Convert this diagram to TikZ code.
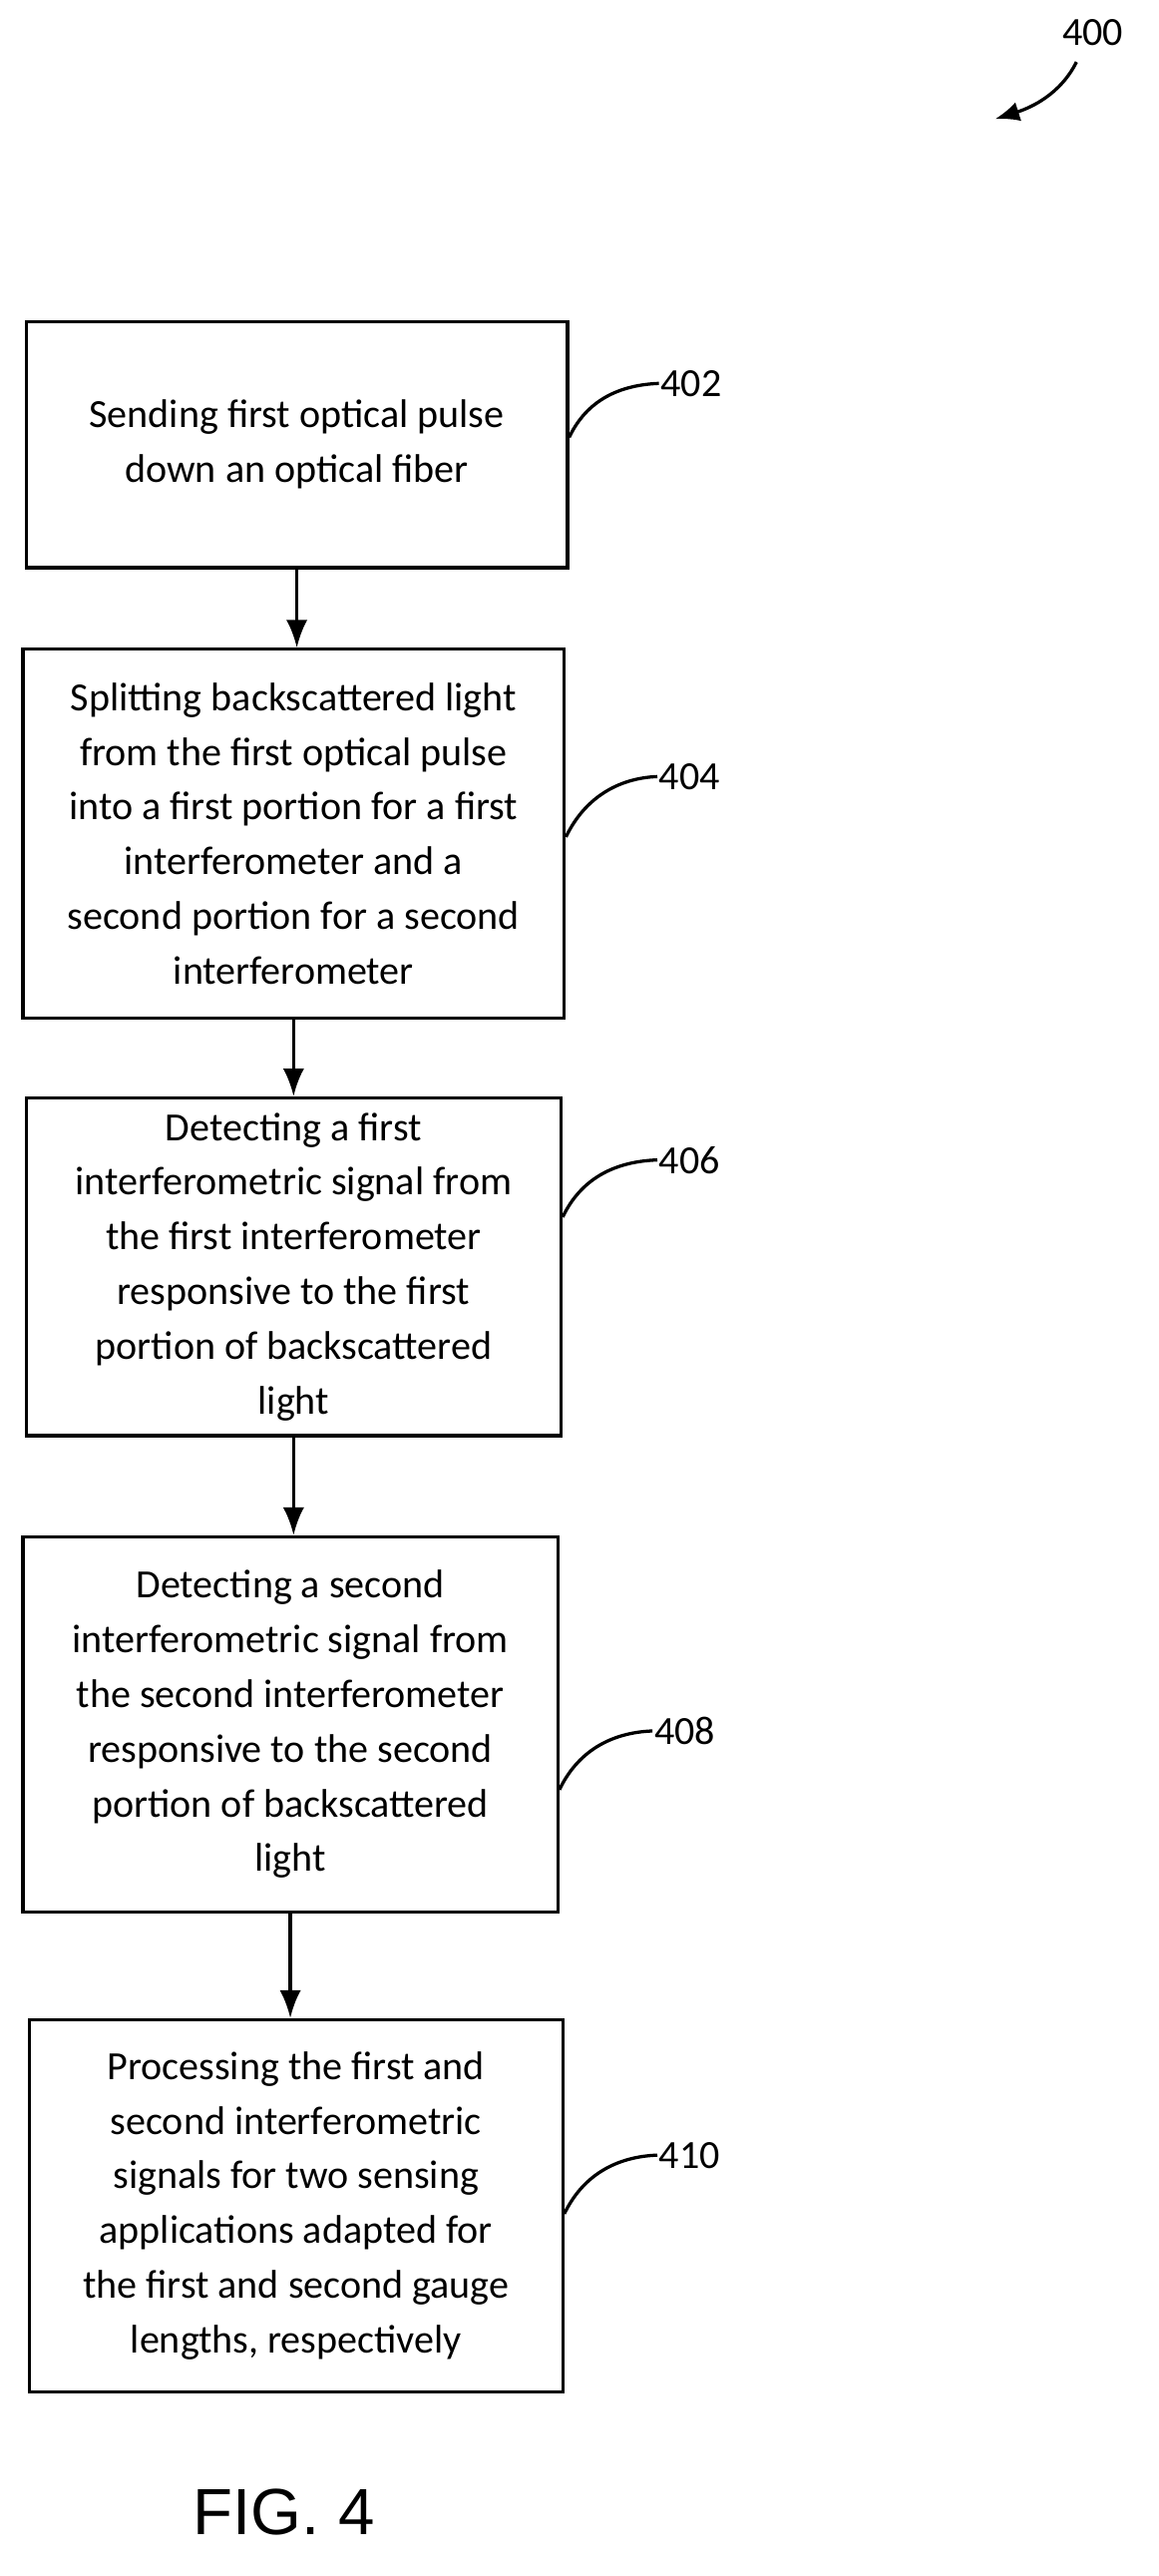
\documentclass[tikz,border=0pt]{standalone}
\usepackage{fontspec}
\usetikzlibrary{arrows.meta}
\setmainfont{Carlito}
\newfontfamily\arialf{Liberation Sans}
\begin{document}
\begin{tikzpicture}[x=1pt,y=-1pt,
 box/.style={draw,line width=2pt,align=center,font=\fontsize{24.5}{33.5}\selectfont,inner sep=0pt},
 lab/.style={font=\fontsize{24.5}{28}\selectfont,anchor=west,inner sep=1pt},
 arr/.style={line width=2pt,-{Latex[length=17pt,width=13pt]}},
 lead/.style={line width=2pt}]
\useasboundingbox (0,0) rectangle (710,1579);
\node[box,minimum width=332,minimum height=151] (b402) at (182,272.5) {Sending first optical pulse\\down an optical fiber};
\node[box,minimum width=332,minimum height=226] (b404) at (180,511) {Splitting backscattered light\\from the first optical pulse\\into a first portion for a first\\interferometer and a\\second portion for a second\\interferometer};
\node[box,minimum width=328,minimum height=207] (b406) at (180,776.5) {Detecting a first\\interferometric signal from\\the first interferometer\\responsive to the first\\portion of backscattered\\light};
\node[box,minimum width=328,minimum height=230] (b408) at (178,1057) {Detecting a second\\interferometric signal from\\the second interferometer\\responsive to the second\\portion of backscattered\\light};
\node[box,minimum width=327,minimum height=228] (b410) at (181.5,1352) {Processing the first and\\second interferometric\\signals for two sensing\\applications adapted for\\the first and second gauge\\lengths, respectively};
\draw[arr] (b402.south) -- (b404.north-|b402.south);
\draw[arr] (b404.south) -- (b406.north-|b404.south);
\draw[arr] (b406.south) -- (b408.north-|b406.south);
\draw[arr] (b408.south) -- (b410.north-|b408.south);
\node[lab] (l402) at (404,235) {402};
\node[lab] (l404) at (403,476) {404};
\node[lab] (l406) at (403,711) {406};
\node[lab] (l408) at (400,1061) {408};
\node[lab] (l410) at (403,1321) {410};
\draw[lead] (b402.east|-0,268) .. controls (360,245) and (380,236) .. (l402.west);
\draw[lead] (b404.east|-0,513) .. controls (358,490) and (378,477) .. (l404.west);
\draw[lead] (b406.east|-0,746) .. controls (356,723) and (376,712) .. (l406.west);
\draw[lead] (b408.east|-0,1097) .. controls (354,1074) and (374,1062) .. (l408.west);
\draw[lead] (b410.east|-0,1357) .. controls (357,1334) and (377,1322) .. (l410.west);
\node[lab,anchor=center] (l400) at (670,20) {400};
\coordinate (a400) at (610,73);
\draw[line width=2pt,-{Latex[length=15pt,width=12pt]}] (660,38) .. controls (650,58) and (632,66) .. (a400);
\node[font=\arialf\fontsize{40}{44}\selectfont] (fig) at (174,1540) {FIG. 4};
\end{tikzpicture}
\end{document}
